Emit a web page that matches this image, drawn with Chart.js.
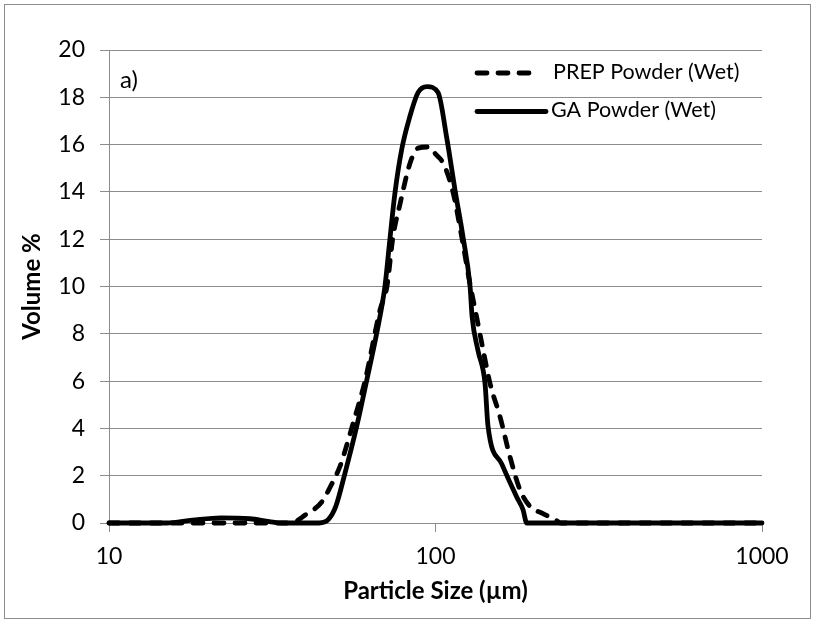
<!DOCTYPE html>
<html>
<head>
<meta charset="utf-8">
<script src="https://cdn.jsdelivr.net/npm/chart.js@4.4.1/dist/chart.umd.min.js"></script>
<style>
  html, body { margin: 0; padding: 0; background: #fff; }
  #wrap { width: 815px; height: 622px; }
</style>
</head>
<body>
<div id="wrap"><canvas id="psdChart" width="815" height="622"></canvas></div>
<script>
// particle size (um) and volume %
const gaSize = [10, 15, 18, 22, 27, 31, 34, 44, 47, 49.5, 52.8, 57.4, 61.6, 66, 70, 72.5, 75.2, 78.8, 83.5, 88.4, 94.2, 101.8, 108.2, 114.7, 121.4, 127.6, 129.5, 134.9, 141.8, 144.8, 159.5, 177.3, 185.4, 190.3, 1000];
const gaVolume = [0, 0, 0.12, 0.22, 0.18, 0.06, 0, 0, 0.15, 0.7, 2.1, 4.1, 6.05, 8, 10, 12, 14, 15.8, 17.2, 18.2, 18.45, 18.2, 16.3, 14.1, 12.1, 10, 8.7, 7.3, 5.9, 4.1, 2.5, 1.1, 0.56, 0, 0];

const prepSize = [10, 36, 40, 44.9, 47.5, 51, 53.5, 55.9, 60.8, 67.6, 71, 74.1, 77.9, 83.5, 88.4, 96, 100, 105.7, 113.1, 120.3, 127.6, 133.7, 140, 146.9, 157.6, 169.1, 181.5, 194.8, 213.4, 235, 242, 1000];
const prepVolume = [0, 0, 0.35, 0.9, 1.5, 2.4, 3.3, 4.2, 6.0, 9.0, 10, 12.1, 13.5, 15.2, 15.85, 15.9, 15.6, 15.2, 14.0, 12.1, 10.1, 8.7, 7.3, 5.9, 4.5, 2.8, 1.4, 0.7, 0.4, 0.1, 0, 0];

const xTickValues = [10, 100, 1000];
const yMin = 0, yMax = 20, yStep = 2;

const seriesNames = ['PREP Powder (Wet)', 'GA Powder (Wet)'];

Chart.defaults.font.family = 'Lato, "Open Sans", sans-serif';
Chart.defaults.color = '#000';

const gridGray = '#8c8c8c';

function toPoints(xs, ys) {
    return xs.map((x, i) => ({ x: x, y: ys[i] }));
}

// frame, panel letter and legend drawn on top
const decorations = {
    id: 'decorations',
    afterDraw(chart) {
        const ctx = chart.ctx;
        ctx.save();
        ctx.strokeStyle = gridGray;
        ctx.lineWidth = 1;
        ctx.strokeRect(4.5, 4.5, 806, 614);

        ctx.fillStyle = '#000';
        ctx.font = '24px Lato';
        ctx.textBaseline = 'middle';
        ctx.textAlign = 'left';
        ctx.fillText('a)', 120, 80);

        const items = [
            { ds: chart.data.datasets[0], y: 73, x1: 477, x2: 538, tx: 553 },
            { ds: chart.data.datasets[1], y: 111.5, x1: 477, x2: 546, tx: 551 }
        ];
        ctx.font = '21.5px Lato';
        items.forEach(it => {
            ctx.beginPath();
            ctx.strokeStyle = it.ds.borderColor;
            ctx.lineWidth = it.ds.borderWidth;
            ctx.lineCap = 'round';
            ctx.setLineDash(it.ds.borderDash || []);
            ctx.moveTo(it.x1, it.y);
            ctx.lineTo(it.x2, it.y);
            ctx.stroke();
            ctx.setLineDash([]);
            ctx.fillText(it.ds.label, it.tx, it.y - 1);
        });
        ctx.restore();
    }
};

const ctx = document.getElementById('psdChart').getContext('2d');
const psdChart = new Chart(ctx, {
    type: 'line',
    data: {
        datasets: [{
            label: seriesNames[0],
            data: toPoints(prepSize, prepVolume),
            borderColor: '#000',
            borderWidth: 4.8,
            borderDash: [10, 11],
            borderCapStyle: 'round',
            pointRadius: 0,
            cubicInterpolationMode: 'monotone',
            clip: false,
            fill: false
        }, {
            label: seriesNames[1],
            data: toPoints(gaSize, gaVolume),
            borderColor: '#000',
            borderWidth: 4.8,
            borderCapStyle: 'round',
            borderJoinStyle: 'round',
            pointRadius: 0,
            cubicInterpolationMode: 'monotone',
            clip: false,
            fill: false
        }]
    },
    options: {
        responsive: false,
        animation: false,
        events: [],
        layout: { padding: { left: 0, right: 53, top: 50, bottom: 0 } },
        plugins: {
            legend: { display: false },
            tooltip: { enabled: false }
        },
        scales: {
            x: {
                type: 'logarithmic',
                min: 10,
                max: 1000,
                afterBuildTicks: scale => {
                    scale.ticks = xTickValues.map(v => ({ value: v }));
                },
                afterFit: scale => { scale.height = 99; },
                ticks: {
                    autoSkip: false,
                    maxRotation: 0,
                    padding: 11,
                    font: { size: 23 },
                    callback: v => String(v)
                },
                grid: {
                    drawOnChartArea: false,
                    drawTicks: true,
                    tickLength: 9,
                    color: gridGray,
                    lineWidth: 1
                },
                border: { color: gridGray, width: 1 },
                title: {
                    display: true,
                    text: 'Particle Size (µm)',
                    font: { size: 24, weight: 'bold' },
                    padding: { top: 0, bottom: 16 }
                }
            },
            y: {
                min: yMin,
                max: yMax,
                afterFit: scale => { scale.width = 109; },
                ticks: {
                    stepSize: yStep,
                    padding: 15,
                    font: { size: 23 }
                },
                grid: {
                    color: gridGray,
                    lineWidth: 1,
                    tickLength: 9
                },
                border: { color: gridGray, width: 1 },
                title: {
                    display: true,
                    text: 'Volume %',
                    font: { size: 24, weight: 'bold' },
                    padding: { top: 18, bottom: 0 }
                }
            }
        }
    },
    plugins: [decorations]
});
</script>
</body>
</html>
